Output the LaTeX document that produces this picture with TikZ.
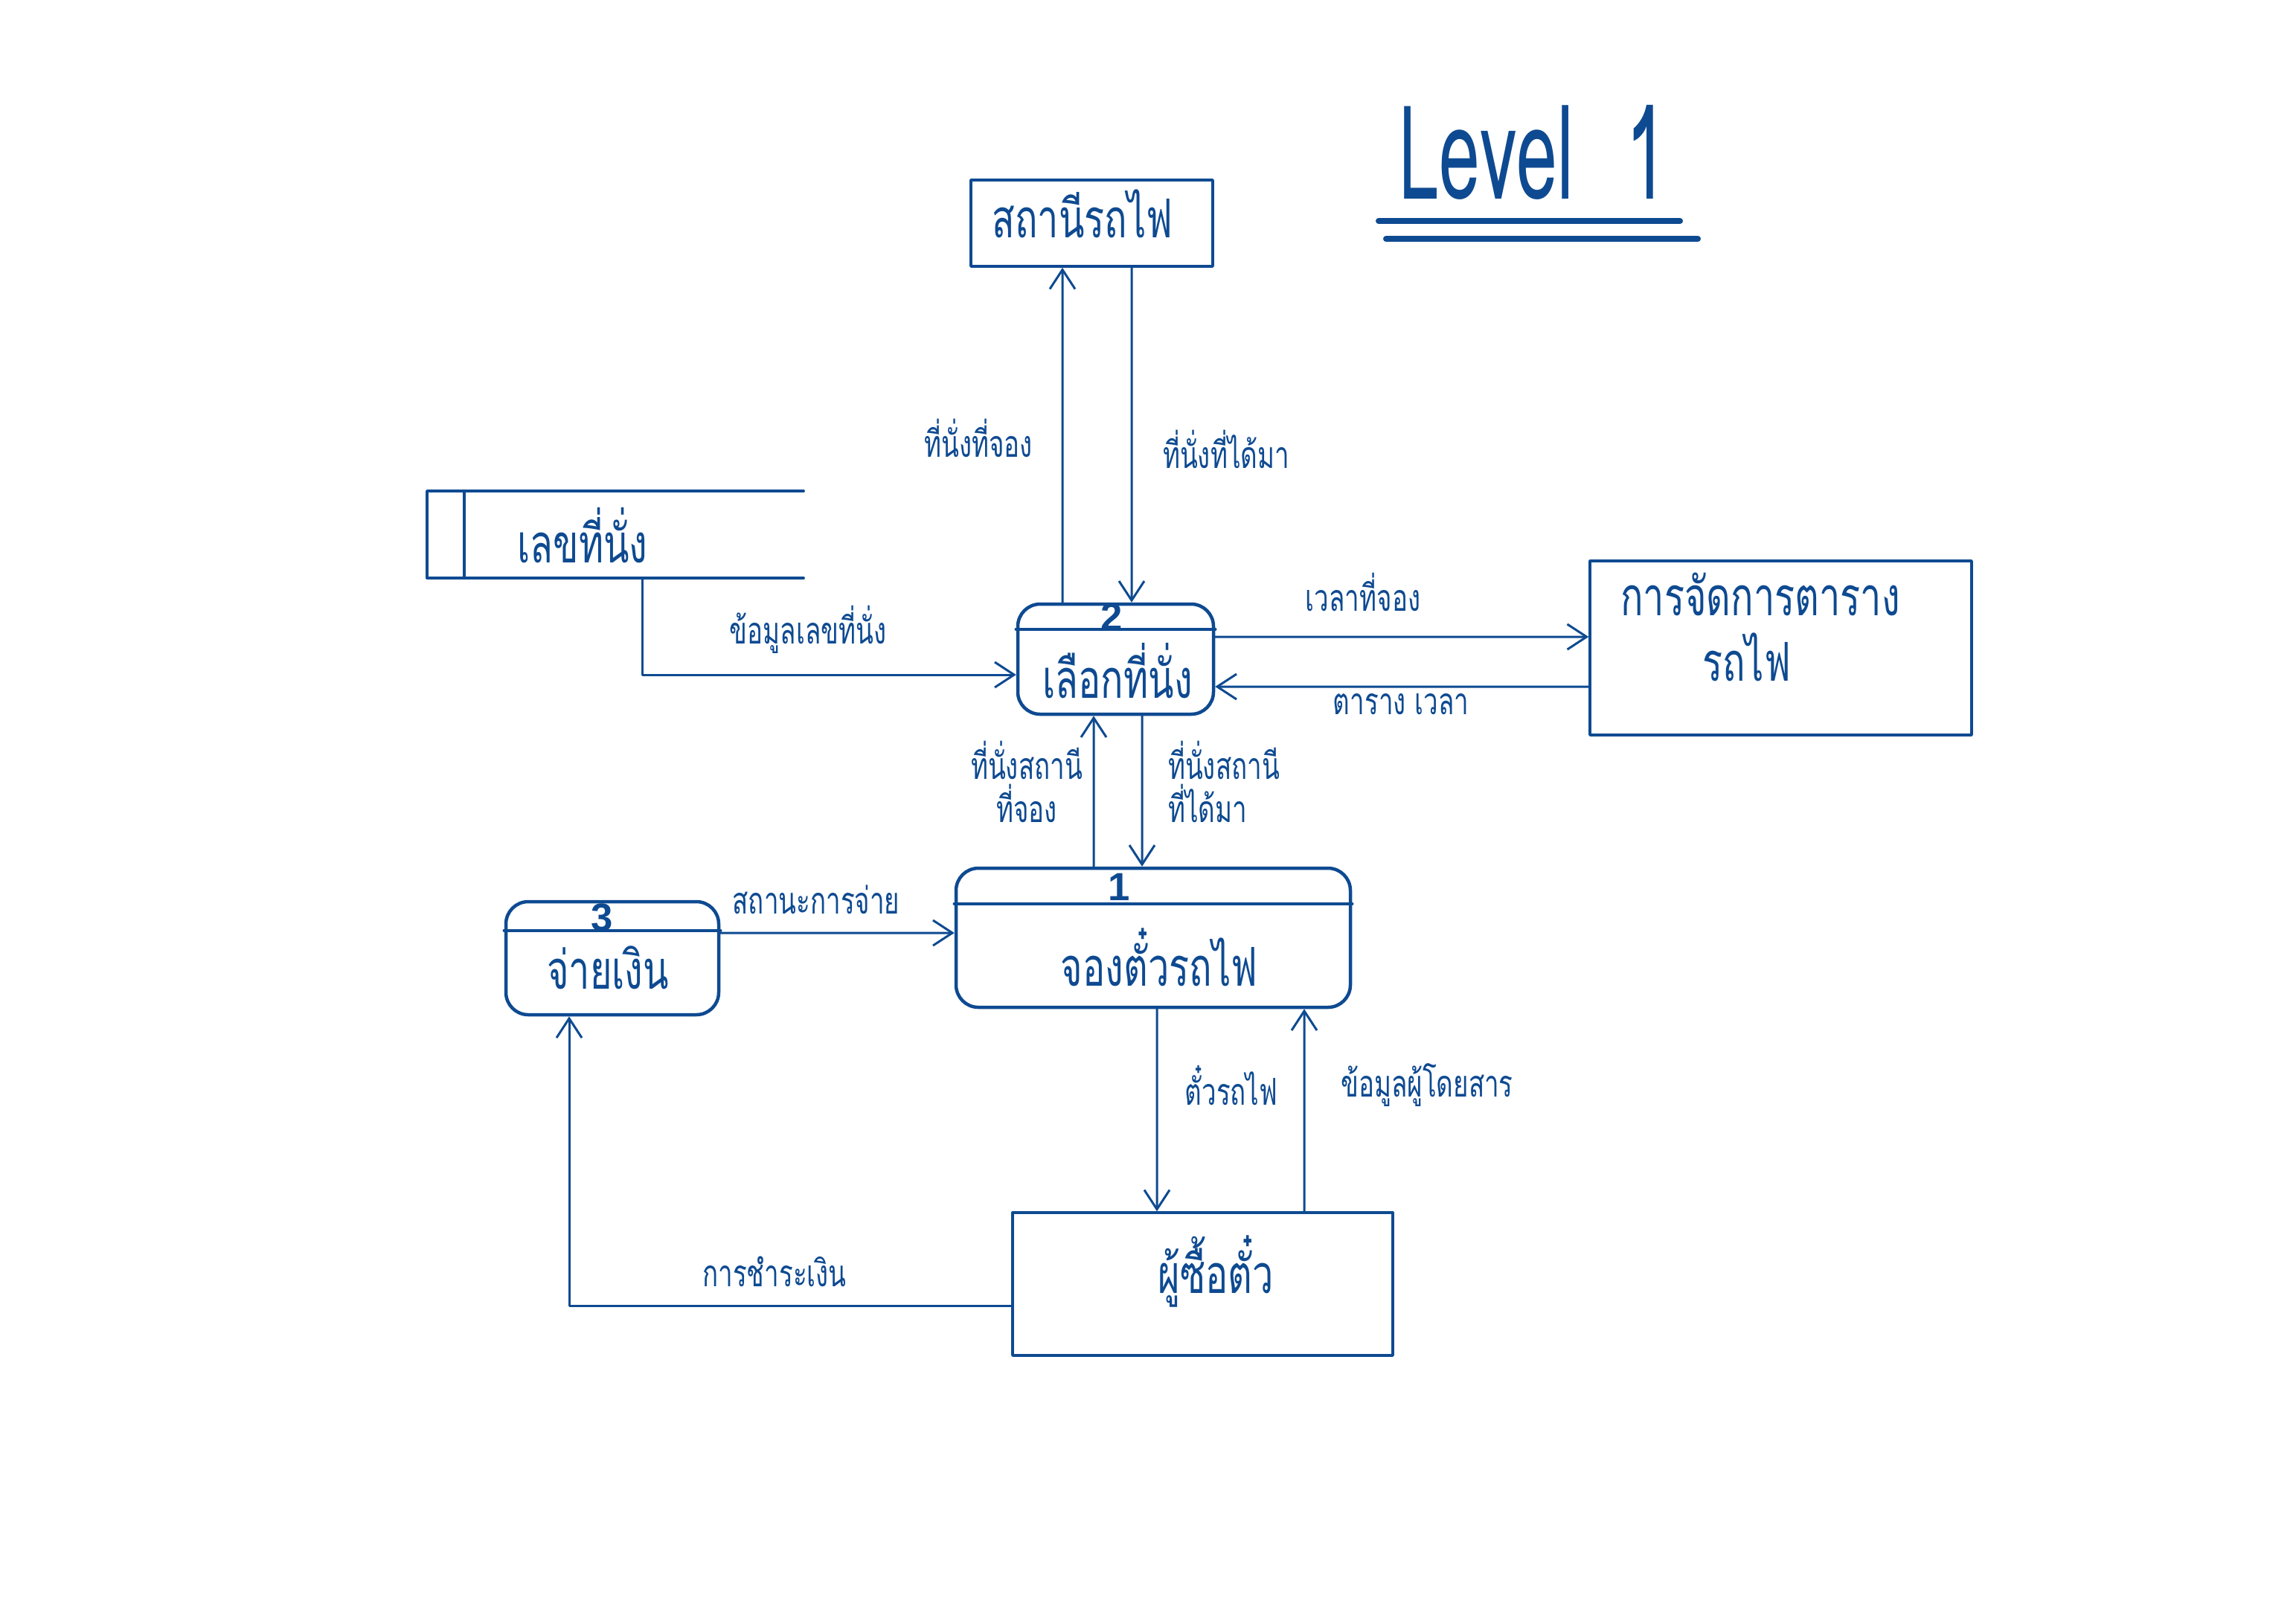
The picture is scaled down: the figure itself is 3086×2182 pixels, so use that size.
\documentclass[tikz,border=0pt]{standalone}
\usepackage{fontspec}
\setmainfont{Liberation Sans}
\newfontfamily\thai[Script=Thai,FakeStretch=0.7]{Loma}
\newfontfamily\lvl[FakeStretch=0.56]{Loma}
\usetikzlibrary{arrows.meta,calc}
\definecolor{ink}{RGB}{14,74,145}
\begin{document}
\begin{tikzpicture}[x=0.1mm,y=-0.1mm,color=ink,line cap=round,line join=round,
  arr/.style={draw=ink,line width=0.3mm,-{Straight Barb[length=2.6mm,width=3.4mm,line width=0.3mm]}},
  extbox/.style={draw=ink,line width=0.35mm,inner sep=0pt},
  proc/.style={draw=ink,line width=0.45mm,rounded corners=3mm,inner sep=0pt},
  procline/.style={draw=ink,line width=0.45mm},
  store/.style={draw=ink,line width=0.38mm},
  big/.style={font=\thai\fontsize{20.5}{25}\selectfont,inner sep=0pt,yshift=1.3mm},
  lab/.style={font=\thai\fontsize{14.2}{16.3}\selectfont,inner sep=0pt,align=center,yshift=1.1mm},
  num/.style={font=\bfseries\fontsize{15}{17}\selectfont,inner sep=0pt}]
\fill[white] (0,0) rectangle (3086,2182);
\useasboundingbox (0,0) rectangle (3086,2182);

% title
\node[font=\lvl\fontsize{50}{60}\selectfont,inner sep=0pt] (lv) at (2060,205) {Level\hspace{7mm}1};
\coordinate (u1a) at (1853,297); \coordinate (u1b) at (2258,297);
\coordinate (u2a) at (1863,321); \coordinate (u2b) at (2282,321);
\draw[line width=0.8mm] (u1a) -- (u1b);
\draw[line width=0.8mm] (u2a) -- (u2b);

% external entities
\node[extbox,minimum width=32.5mm,minimum height=11.6mm] (st) at (1467.5,300) {};
\node[big] (stt) at (1455,300) {สถานีรถไฟ};
\node[extbox,minimum width=51.3mm,minimum height=23.4mm] (bx) at (2393.5,871) {};
\node[big,align=left] (bxt) at (2366,856) {การจัดการตาราง\\\hspace*{11mm}รถไฟ};
\node[extbox,minimum width=51.1mm,minimum height=19.2mm] (ent) at (1616.5,1726) {};
\node[big] (entt) at (1634,1722) {ผู้ซื้อตั๋ว};

% data store
\coordinate (dsa) at (1080,660); \coordinate (dsb0) at (574,660);
\coordinate (dsc) at (574,777); \coordinate (dsd) at (1080,777);
\coordinate (dsi1) at (624,660); \coordinate (dsi2) at (624,777);
\draw[store] (dsa) -- (dsb0) -- (dsc) -- (dsd);
\draw[store] (dsi1) -- (dsi2);
\node[big] (ds) at (783,733) {เลขที่นั่ง};
\coordinate (dsb) at (863,777);

% process 2
\node[proc,minimum width=26.3mm,minimum height=14.8mm] (p2) at (1499.5,886) {};
\draw[procline] ($(p2.north west)+(0,36)$) -- ($(p2.north east)+(0,36)$);
\node[num] (p2n) at (1494,829) {2};
\node[big] (p2t) at (1502,915) {เลือกที่นั่ง};

% process 1
\node[proc,minimum width=53mm,minimum height=18.7mm] (p1) at (1550,1260.5) {};
\draw[procline] ($(p1.north west)+(0,50)$) -- ($(p1.north east)+(0,50)$);
\node[num] (p1n) at (1504,1192) {1};
\node[big] (p1t) at (1558,1300) {จองตั๋วรถไฟ};

% process 3
\node[proc,minimum width=28.6mm,minimum height=15.2mm] (p3) at (823,1288) {};
\draw[procline] ($(p3.north west)+(0,41)$) -- ($(p3.north east)+(0,41)$);
\node[num] (p3n) at (809,1233) {3};
\node[big] (p3t) at (817,1314) {จ่ายเงิน};

% flows
\draw[arr] ([xshift=-7.15mm]p2.north) -- ([xshift=-3.95mm]st.south);
\draw[arr] ([xshift=5.35mm]st.south) -- ([xshift=2.15mm]p2.north);
\draw[arr] (dsb) |- ([yshift=-2.1mm]p2.west);
\draw[arr] ([yshift=3mm]p2.east) -- ([yshift=1.5mm]bx.west);
\draw[arr] ([yshift=-5.2mm]bx.west) -- ([yshift=-3.7mm]p2.east);
\draw[arr] ([xshift=-8mm]p1.north) -- ([xshift=-2.95mm]p2.south);
\draw[arr] ([xshift=3.55mm]p2.south) -- ([xshift=-1.5mm]p1.north);
\draw[arr] ([yshift=3.4mm]p3.east) -- ([yshift=0.65mm]p1.west);
\draw[arr] ([xshift=0.5mm]p1.south) -- ([xshift=-6.15mm]ent.north);
\draw[arr] ([xshift=13.65mm]ent.north) -- ([xshift=20.3mm]p1.south);
\draw[arr] ([yshift=-2.9mm]ent.west) -| ([xshift=-5.8mm]p3.south);

% labels
\node[lab] (l1) at (1315,600) {ที่นั่งที่จอง};
\node[lab] (l2) at (1648,615) {ที่นั่งที่ได้มา};
\node[lab] (l3) at (1086,857) {ข้อมูลเลขที่นั่ง};
\node[lab] (l4) at (1832,807) {เวลาที่จอง};
\node[lab] (l5) at (1883,958) {ตาราง เวลา};
\node[lab] (l6) at (1380,1062) {ที่นั่งสถานี\\ที่จอง};
\node[lab,align=left] (l7) at (1645,1062) {ที่นั่งสถานี\\ที่ได้มา};
\node[lab] (l8) at (1097,1220) {สถานะการจ่าย};
\node[lab] (l9) at (1655,1470) {ตั๋วรถไฟ};
\node[lab] (l10) at (1918,1470) {ข้อมูลผู้โดยสาร};
\node[lab] (l11) at (1041,1720) {การชำระเงิน};
\end{tikzpicture}
\end{document}
